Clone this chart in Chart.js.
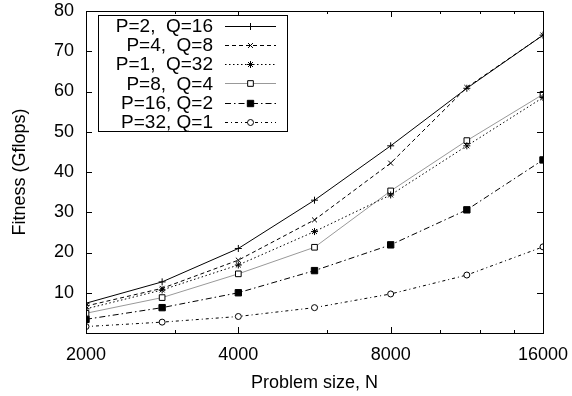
<!DOCTYPE html>
<html>
<head>
<meta charset="utf-8">
<script src="https://cdn.jsdelivr.net/npm/chart.js@4/dist/chart.umd.min.js"></script>
<style>
  html, body { margin: 0; padding: 0; background: #fff; }
  #wrap { width: 572px; height: 396px; }
</style>
</head>
<body>
<div id="wrap"><canvas id="chart"></canvas></div>
<script>
// Problem sizes (x axis, log scale)
const problemSizes = [2000, 2828, 4000, 5657, 8000, 11314, 16000];
const xTickValues = [2000, 4000, 8000, 16000];
const xMinorTicks = [3000, 6000, 10000, 12000, 14000];
const yTickValues = [0, 10, 20, 30, 40, 50, 60, 70, 80];

// Fitness (Gflops) per grid shape
const seriesNames = ['P=2,  Q=16', 'P=4,  Q=8', 'P=1,  Q=32', 'P=8,  Q=4', 'P=16, Q=2', 'P=32, Q=1'];
const p2q16 = [7.4, 12.7, 21.0, 33.0, 46.5, 60.8, 74.0];
const p4q8 = [6.7, 11.1, 18.1, 28.1, 42.2, 61.0, 74.0];
const p1q32 = [6.0, 10.7, 16.9, 25.2, 34.3, 46.5, 58.5];
const p8q4 = [4.9, 8.8, 14.7, 21.3, 35.3, 47.8, 59.3];
const p16q2 = [3.4, 6.3, 10.0, 15.5, 21.9, 30.6, 43.0];
const p32q1 = [1.6, 2.7, 4.1, 6.3, 9.7, 14.4, 21.4];

const FONT = 'Liberation Sans, Arial, Helvetica, sans-serif';

function toPoints(values) {
  return problemSizes.map((n, i) => ({ x: n, y: values[i] }));
}

function makeSet(label, values, color, dash, style, radius, fill) {
  return {
    label: label,
    data: toPoints(values),
    borderColor: color,
    borderWidth: 1,
    borderDash: dash,
    pointStyle: style,
    pointRadius: radius,
    pointHoverRadius: radius,
    pointBorderColor: '#000',
    pointBackgroundColor: fill,
    pointBorderWidth: 1,
    tension: 0,
    fill: false
  };
}

// Inside ticks and frame, gnuplot style
const framePlugin = {
  id: 'frame',
  afterDatasetsDraw(chart) {
    const { ctx, chartArea: a, scales } = chart;
    ctx.save();
    ctx.strokeStyle = '#000';
    ctx.lineWidth = 1;
    ctx.setLineDash([]);
    ctx.beginPath();
    yTickValues.forEach(v => {
      const y = Math.round(scales.y.getPixelForValue(v)) + 0.5;
      ctx.moveTo(a.left, y); ctx.lineTo(a.left + 6, y);
      ctx.moveTo(a.right, y); ctx.lineTo(a.right - 6, y);
    });
    xTickValues.forEach(v => {
      const x = Math.round(scales.x.getPixelForValue(v)) + 0.5;
      ctx.moveTo(x, a.bottom); ctx.lineTo(x, a.bottom - 6);
      ctx.moveTo(x, a.top); ctx.lineTo(x, a.top + 6);
    });
    xMinorTicks.forEach(v => {
      const x = Math.round(scales.x.getPixelForValue(v)) + 0.5;
      ctx.moveTo(x, a.bottom); ctx.lineTo(x, a.bottom - 3);
      ctx.moveTo(x, a.top); ctx.lineTo(x, a.top + 3);
    });
    ctx.stroke();
    ctx.strokeRect(Math.round(a.left) + 0.5, Math.round(a.top) + 0.5,
      Math.round(a.right - a.left), Math.round(a.bottom - a.top));
    ctx.restore();
  }
};

// Boxed key in the top-left corner, text right-aligned, sample on the right
const keyPlugin = {
  id: 'key',
  afterDraw(chart) {
    const { ctx } = chart;
    const sets = chart.data.datasets;
    const box = { x: 98.5, y: 15.5, w: 189, h: 116 };
    ctx.save();
    ctx.fillStyle = '#fff';
    ctx.fillRect(box.x, box.y, box.w, box.h);
    ctx.strokeStyle = '#000';
    ctx.lineWidth = 1;
    ctx.setLineDash([]);
    ctx.strokeRect(box.x, box.y, box.w, box.h);
    ctx.font = '19px ' + FONT;
    ctx.textAlign = 'right';
    ctx.textBaseline = 'middle';
    sets.forEach((ds, i) => {
      const y = 25.5 + i * 19.3;
      ctx.fillStyle = '#000';
      ctx.fillText(ds.label, 213, y + 1);
      ctx.strokeStyle = ds.borderColor;
      ctx.setLineDash(ds.borderDash);
      ctx.beginPath();
      ctx.moveTo(225, Math.round(y) + 0.5);
      ctx.lineTo(276, Math.round(y) + 0.5);
      ctx.stroke();
      ctx.setLineDash([]);
      ctx.strokeStyle = '#000';
      ctx.fillStyle = ds.pointBackgroundColor;
      Chart.helpers.drawPoint(ctx, {
        pointStyle: ds.pointStyle,
        radius: ds.pointRadius,
        rotation: 0,
        borderWidth: 1
      }, 250.5, Math.round(y) + 0.5);
    });
    ctx.restore();
  }
};

function init() {
  const ctx = document.getElementById('chart');
  new Chart(ctx, {
    type: 'line',
    data: {
      datasets: [
        makeSet(seriesNames[0], p2q16, '#000', [], 'cross', 3.5, '#000'),
        makeSet(seriesNames[1], p4q8, '#000', [4, 3], 'crossRot', 3.5, '#000'),
        makeSet(seriesNames[2], p1q32, '#000', [1.5, 2.5], 'star', 3.5, '#000'),
        makeSet(seriesNames[3], p8q4, '#999', [], 'rect', 4, '#fff'),
        makeSet(seriesNames[4], p16q2, '#000', [6, 3, 1.5, 3], 'rect', 4.5, '#000'),
        makeSet(seriesNames[5], p32q1, '#000', [3, 3, 1, 3], 'circle', 3, '#fff')
      ]
    },
    options: {
      responsive: true,
      maintainAspectRatio: false,
      animation: false,
      layout: { padding: { left: 0, right: 29, top: 11, bottom: 0 } },
      plugins: {
        legend: { display: false },
        tooltip: { enabled: false }
      },
      scales: {
        x: {
          type: 'logarithmic',
          min: 2000,
          max: 16000,
          grid: { display: false, drawTicks: false },
          border: { display: false },
          afterBuildTicks: axis => { axis.ticks = xTickValues.map(v => ({ value: v })); },
          afterFit: axis => {
            axis.height = 63;
            axis.paddingLeft = 0;
            axis.paddingRight = 0;
          },
          ticks: {
            autoSkip: false,
            maxRotation: 0,
            padding: 11,
            color: '#000',
            font: { family: FONT, size: 18 },
            callback: v => String(v)
          },
          title: {
            display: true,
            text: 'Problem size, N',
            color: '#000',
            font: { family: FONT, size: 18 },
            padding: { top: 2, bottom: 2 }
          }
        },
        y: {
          min: 0,
          max: 80,
          grid: { display: false, drawTicks: false },
          border: { display: false },
          afterBuildTicks: axis => { axis.ticks = yTickValues.map(v => ({ value: v })); },
          afterFit: axis => {
            axis.width = 86;
            axis.paddingTop = 0;
            axis.paddingBottom = 0;
          },
          ticks: {
            padding: 12,
            color: '#000',
            font: { family: FONT, size: 18 },
            callback: v => (v === 0 ? '' : String(v))
          },
          title: {
            display: true,
            text: 'Fitness (Gflops)',
            color: '#000',
            font: { family: FONT, size: 18 },
            padding: { top: 9, bottom: 0 }
          }
        }
      }
    },
    plugins: [framePlugin, keyPlugin]
  });
}

document.addEventListener('DOMContentLoaded', init);
</script>
</body>
</html>
